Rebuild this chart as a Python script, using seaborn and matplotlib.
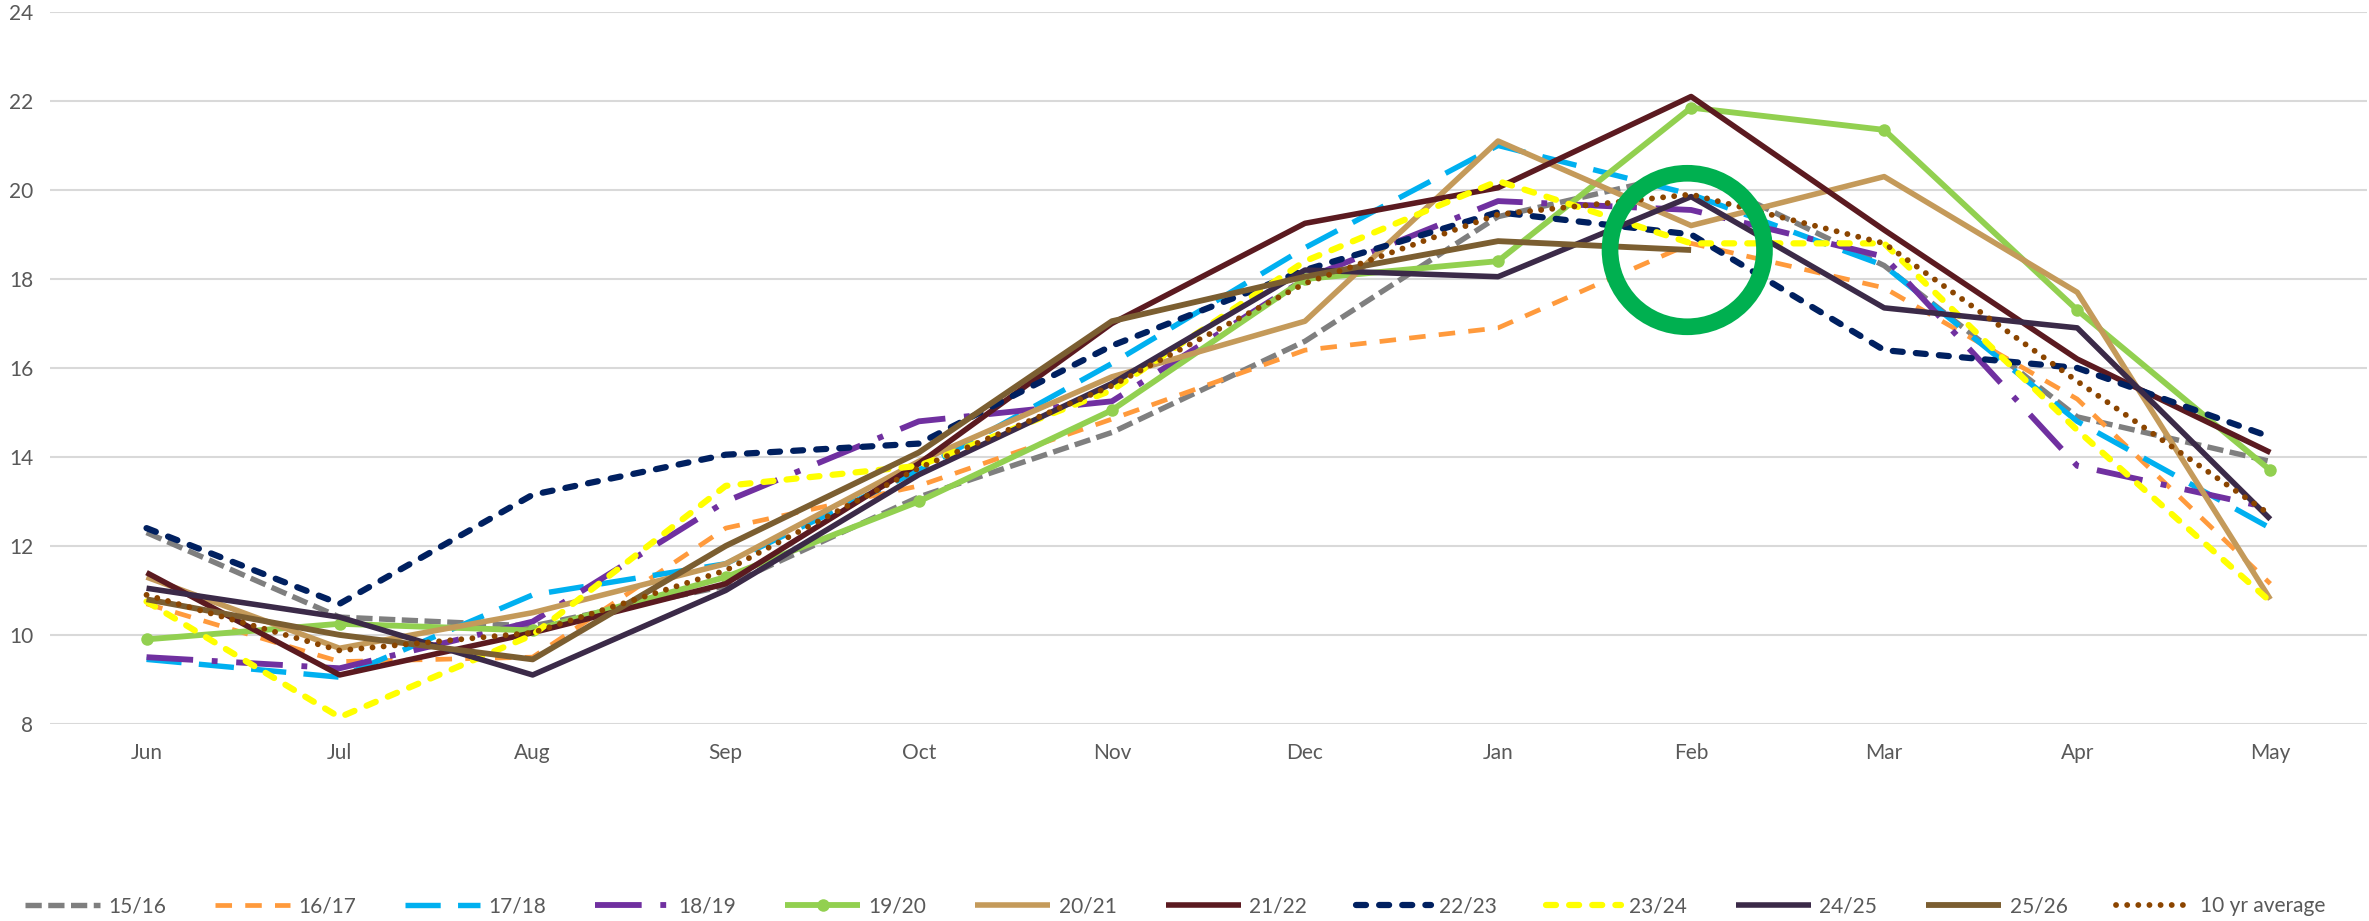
import numpy as np
import pandas as pd
import matplotlib
matplotlib.use("Agg")
import matplotlib.pyplot as plt
from matplotlib.patches import Ellipse
import seaborn as sns

# months on the x axis
months = ["Jun", "Jul", "Aug", "Sep", "Oct", "Nov", "Dec", "Jan", "Feb", "Mar", "Apr", "May"]

# series values
s1516 = [12.3, 10.4, 10.2, 11.1, 13.1, 14.55, 16.6, 19.4, 20.4, 18.3, 14.9, 13.9]
s1617 = [10.7, 9.4, 9.5, 12.4, 13.35, 14.85, 16.4, 16.9, 18.8, 17.8, 15.3, 11.15]
s1718 = [9.45, 9.05, 10.9, 11.6, 13.7, 16.1, 18.7, 21.0, 19.9, 18.3, 14.8, 12.4]
s1819 = [9.5, 9.25, 10.3, 13.0, 14.8, 15.25, 18.0, 19.75, 19.55, 18.5, 13.8, 12.85]
s1920 = [9.9, 10.25, 10.1, 11.3, 13.0, 15.05, 18.0, 18.4, 21.85, 21.35, 17.3, 13.7]
s2021 = [11.3, 9.7, 10.5, 11.6, 13.9, 15.8, 17.05, 21.1, 19.2, 20.3, 17.7, 10.8]
s2122 = [11.4, 9.1, 10.05, 11.15, 13.85, 17.0, 19.25, 20.05, 22.1, 19.1, 16.2, 14.1]
s2223 = [12.4, 10.7, 13.15, 14.05, 14.3, 16.5, 18.2, 19.5, 19.0, 16.4, 16.0, 14.45]
s2324 = [10.75, 8.15, 10.0, 13.35, 13.8, 15.5, 18.4, 20.2, 18.8, 18.8, 14.6, 10.75]
s2425 = [11.05, 10.4, 9.1, 11.0, 13.6, 15.65, 18.2, 18.05, 19.85, 17.35, 16.9, 12.6]
s2526 = [10.8, 10.0, 9.45, 12.0, 14.1, 17.05, 18.05, 18.85, 18.65]
avg10 = [10.9, 9.65, 10.05, 11.45, 13.75, 15.6, 17.9, 19.45, 19.9, 18.8, 15.7, 12.7]

labels = ["15/16", "16/17", "17/18", "18/19", "19/20", "20/21",
          "21/22", "22/23", "23/24", "24/25", "25/26", "10 yr average"]
values = [s1516, s1617, s1718, s1819, s1920, s2021, s2122, s2223, s2324, s2425, s2526, avg10]

# styles: colour, linewidth (pt), linestyle, capstyle
styles = [
    ("#7f7f7f", 3.9, (0, (3, 1.2)), "butt"),
    ("#ff9a3c", 3.4, (0, (3.5, 2.8)), "butt"),
    ("#00b0f0", 3.9, (0, (6.5, 3.2)), "butt"),
    ("#7030a0", 4.2, (0, (8, 3.2, 1, 3.2)), "butt"),
    ("#92d050", 4.2, "-", "butt"),
    ("#c49a5a", 4.0, "-", "butt"),
    ("#5b1a20", 4.0, "-", "butt"),
    ("#002060", 4.5, (0, (1.6, 2.1)), "round"),
    ("#ffff00", 4.5, (0, (1.6, 2.1)), "round"),
    ("#3b2a48", 4.0, "-", "butt"),
    ("#7b5e31", 4.2, "-", "butt"),
    ("#8b4500", 4.2, (0, (0.01, 1.9)), "round"),
]

sns.set_style("white")
plt.rcParams["font.family"] = ["Lato", "DejaVu Sans"]

fig = plt.figure(figsize=(23.69, 9.21), dpi=100)
ax = fig.add_axes([0.0211, 0.214, 0.978, 0.773])

for lab, vals, (col, lw, ls, cap) in zip(labels, values, styles):
    df = pd.DataFrame({"month": months[:len(vals)], "value": vals})
    kw = dict(marker="o", markersize=9, markeredgewidth=0) if lab == "19/20" else {}
    sns.lineplot(data=df, x="month", y="value", ax=ax, color=col, linewidth=lw,
                 linestyle=ls, dash_capstyle=cap, solid_capstyle="butt",
                 sort=False, label=lab, **kw)

# green ring highlighting February
ring = Ellipse((7.98, 18.65), width=0.8, height=3.45, fill=False,
               edgecolor="#00b050", linewidth=12, zorder=20)
ax.add_patch(ring)

ax.set_xlim(-0.5, 11.5)
ax.set_ylim(8, 24)
ax.set_yticks(np.arange(8, 25, 2))
ax.set_xlabel("")
ax.set_ylabel("")
ax.grid(axis="y", color="#d9d9d9", linewidth=1.5)
ax.set_axisbelow(True)
for sp in ax.spines.values():
    sp.set_visible(False)
ax.tick_params(axis="both", length=0, labelsize=15, labelcolor="#595959")
ax.tick_params(axis="x", pad=14)
ax.tick_params(axis="y", pad=12)

ax.get_legend().remove()
handles, labs = ax.get_legend_handles_labels()
fig.legend(handles, labs, loc="center", bbox_to_anchor=(0.496, 0.016), ncol=12,
           frameon=False, fontsize=15, labelcolor="#595959",
           handlelength=3.6, handletextpad=0.4, columnspacing=2.35)

fig.savefig("out.png", dpi=100)
